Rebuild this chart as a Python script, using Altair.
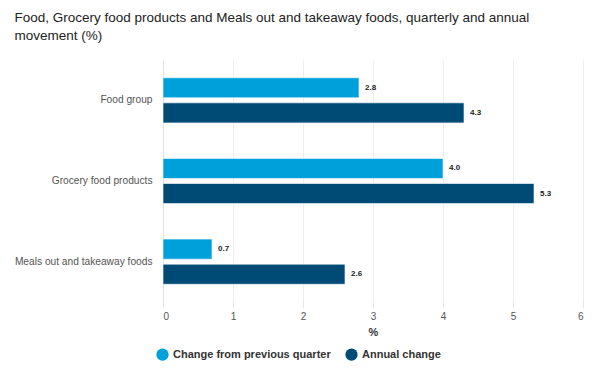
import altair as alt
import pandas as pd

categories = ["Food group", "Grocery food products", "Meals out and takeaway foods"]
series = ["Change from previous quarter", "Annual change"]
quarterly = [2.8, 4.0, 0.7]
annual = [4.3, 5.3, 2.6]
colors = ["#00A0DA", "#004B76"]

rows = []
for c, q, a in zip(categories, quarterly, annual):
    rows.append({"cat": c, "series": series[0], "value": q})
    rows.append({"cat": c, "series": series[1], "value": a})
df = pd.DataFrame(rows)

FONT = "Liberation Sans"

y_enc = alt.Y("cat:N", sort=categories, title=None,
              scale=alt.Scale(paddingInner=0.44, paddingOuter=0.22),
              axis=alt.Axis(labelFontSize=10.2, labelColor="#555", labelPadding=11,
                            ticks=False, domainColor="#dde3ef", labelFont=FONT))
yoff = alt.YOffset("series:N", sort=series, scale=alt.Scale(paddingInner=0.2))
x_enc = alt.X("value:Q", title="%", scale=alt.Scale(domain=[0, 6]),
              axis=alt.Axis(values=[0, 1, 2, 3, 4, 5, 6], grid=True, gridColor="#eeeeee",
                            domain=False, tickColor="#dde3ef", tickSize=5,
                            labelFontSize=10, labelColor="#555", labelPadding=4,
                            titleFontSize=11, titleFontWeight="bold", titleColor="#333",
                            titlePadding=5, labelFont=FONT, titleFont=FONT))
color = alt.Color("series:N", sort=series, scale=alt.Scale(domain=series, range=colors),
                  legend=alt.Legend(title=None, orient="none", direction="horizontal",
                                    legendX=-7, legendY=288, symbolType="circle",
                                    symbolSize=150, symbolStrokeWidth=0, labelFontSize=11,
                                    labelFontWeight="bold", labelColor="#333",
                                    labelFont=FONT, columnPadding=14, symbolOpacity=1))

base = alt.Chart(df).encode(y=y_enc, yOffset=yoff, x=x_enc)
bars = base.mark_bar(stroke="#ffffff", strokeWidth=0.6).encode(color=color)
labels = base.mark_text(align="left", dx=6, fontSize=8, fontWeight="bold",
                        color="#222", font=FONT).encode(text=alt.Text("value:Q", format=".1f"))

chart = (bars + labels).properties(
    width=420, height=242,
    title=alt.TitleParams(
        text=["Food, Grocery food products and Meals out and takeaway foods, quarterly and annual",
              "movement (%)"],
        anchor="start", frame="bounds", fontSize=13.5, fontWeight="normal", color="#222",
        font=FONT, offset=18, lineHeight=18),
    padding={"left": 6, "top": 2, "right": 3, "bottom": 5},
).configure_view(stroke=None)

chart.save("out.html", embed_options={"renderer": "svg", "actions": False})
